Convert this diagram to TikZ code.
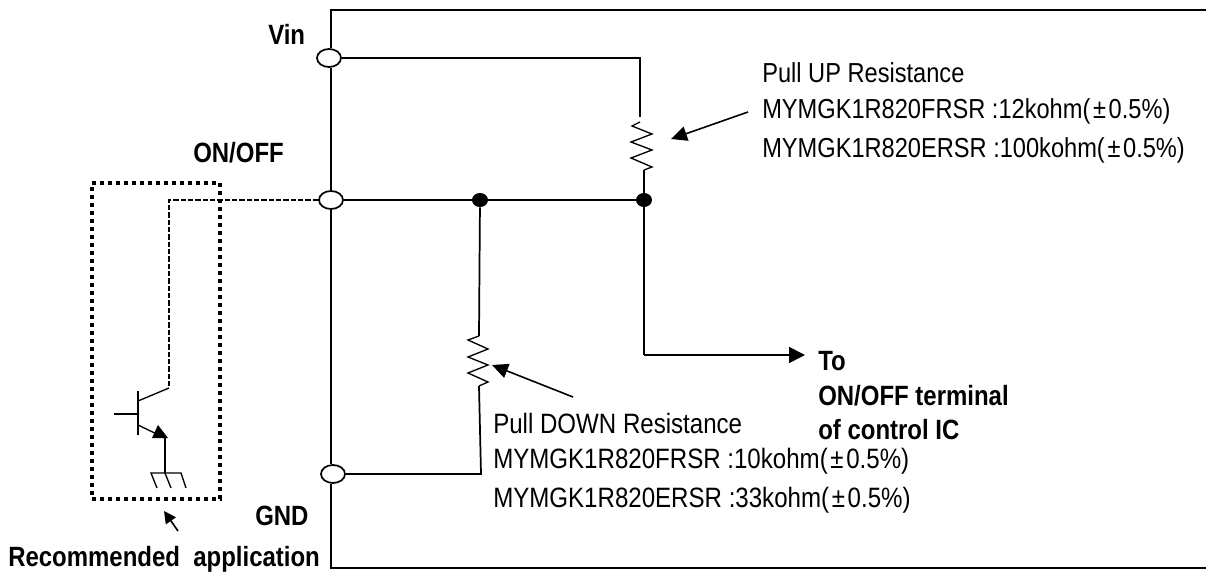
\documentclass[tikz,border=0pt]{standalone}
\usepackage{fontspec}
\setmainfont[FakeStretch=0.86]{Liberation Sans}
\usetikzlibrary{arrows.meta, shapes.geometric}
\newcommand{\pmwide}{\kern2pt±\kern2pt}
\tikzset{
  wire/.style={line width=1.3pt, line join=miter},
  pointer/.style={line width=1.2pt, -{Triangle[length=12pt,width=11pt]}},
  terminal/.style={draw, ellipse, line width=1.3pt, fill=white, inner sep=0pt, minimum width=18pt, minimum height=13.5pt},
  junction/.style={fill=black, ellipse, inner sep=0pt, minimum width=12pt, minimum height=10.5pt},
  lbl/.style={anchor=base west, inner sep=0pt, font=\fontsize{20.6}{20.6}\selectfont},
  lowlbl/.style={lbl, font=\fontsize{21}{21}\selectfont},
  boldlbl/.style={lbl, font=\fontsize{20.9}{20.9}\selectfont\bfseries},
}
\begin{document}
\begin{tikzpicture}[x=0.75pt, y=-0.75pt]
  \useasboundingbox (0,0) rectangle (1206,574);
  % outer frame corners
  \coordinate (tl) at (331,10);
  \coordinate (tr) at (1206,10);
  \coordinate (bl) at (331,568);
  \coordinate (br) at (1206,568);

  \node[terminal] (vin) at (329,58) {};
  \node[terminal] (onoff) at (331,200) {};
  \node[terminal] (gnd) at (333,474) {};
  \node[junction] (dotl) at (480,200) {};
  \node[junction] (dotr) at (644,200) {};
  \node[draw, dotted, line width=3pt, dash pattern=on 3pt off 3pt, minimum width=96pt, minimum height=237pt] (recbox) at (156,341) {};

  \draw[wire] (tr) -- (tl) -- (tl |- vin.north);
  \draw[wire] (tl |- vin.south) -- (tl |- onoff.north);
  \draw[wire] (tl |- onoff.south) -- (tl |- gnd.north);
  \draw[wire] (tl |- gnd.south) -- (bl) -- (br);

  % pull up
  \coordinate (upin) at (640,117);
  \coordinate (upstart) at (640,122);
  \coordinate (upout) at (644,170);
  \draw[wire] (vin.east) -- (upin |- vin) -- (upin);
  \draw[wire, line width=1pt] (upstart) -- ++(-8,4) -- ++(20,8) -- ++(-21,8) -- ++(21,8) -- ++(-21,8) -- ++(21,9) -- (upout);
  \draw[wire] (upout) -- (dotr);
  \draw[wire] (onoff.east) -- (dotl) -- (dotr);

  % pull down
  \coordinate (downin) at (479,336);
  \coordinate (downout) at (479,386);
  \coordinate (gndin) at (481,474);
  \draw[wire] (dotl) -- (downin);
  \draw[wire, line width=1pt] (downin) -- ++(-11,4) -- ++(20,9) -- ++(-20,8) -- ++(20,8) -- ++(-20,8) -- ++(20,9) -- (downout);
  \draw[wire] (downout) -- (gndin) -- (gnd.east);

  % output
  \coordinate (outcorner) at (644,355);
  \coordinate (outend) at (805,355);
  \draw[wire] (dotr) -- (outcorner);
  \draw[wire, -{Triangle[length=12pt,width=12pt]}] (outcorner) -- (outend);

  % pointers
  \coordinate (uptail) at (748,112);
  \coordinate (uptip) at (671,139);
  \coordinate (downtail) at (573,397);
  \coordinate (downtip) at (492,365);
  \coordinate (rectail) at (178,531);
  \coordinate (rectip) at (164,511);
  \draw[pointer] (uptail) -- (uptip);
  \draw[pointer] (downtail) -- (downtip);
  \draw[line width=1.2pt, -{Triangle[length=9pt,width=9pt]}] (rectail) -- (rectip);

  % transistor
  \coordinate (coll) at (169,388);
  \coordinate (emit) at (165,438);
  \coordinate (earth) at (165,473);
  \draw[line width=0.9pt, dash pattern=on 4pt off 1.5pt] (onoff.west) -- (coll |- onoff) -- (coll);
  \draw[wire, line width=1pt] (coll) -- (138,401);
  \draw[wire, line width=1pt] (138,391) -- (138,435);
  \draw[wire, line width=1pt] (114,414) -- (138,414);
  \draw[wire, line width=1pt] (138,425) -- (emit);
  \fill (158,425) -- (152,438) -- (168,438) -- cycle;
  \draw[wire] (emit) -- (earth);
  \draw[line width=1pt] (157,488) -- (151,473) -- (181,473) -- (186,488);
  \draw[line width=1pt] (earth) -- (171,488);

  \node[boldlbl] (vinlbl) at (268,45) {Vin};
  \node[boldlbl] (onofflbl) at (193,162) {ON/OFF};
  \node[boldlbl] (gndlbl) at (255,525) {GND};
  \node[boldlbl] (reclbl) at (8,566) {Recommended\ \ application};
  \node[boldlbl] (tolbl) at (818,370) {To};
  \node[boldlbl] (termlbl) at (818,405) {ON/OFF terminal};
  \node[boldlbl] (iclbl) at (818,439) {of control IC};

  \node[lbl] (uptitle) at (762,83) {Pull UP Resistance};
  \node[lbl] (upf) at (762,119) {MYMGK1R820FRSR :12kohm(\pmwide0.5\%)};
  \node[lbl] (upe) at (762,157) {MYMGK1R820ERSR :100kohm(\pmwide0.5\%)};
  \node[lowlbl] (downtitle) at (493,433) {Pull DOWN Resistance};
  \node[lowlbl] (downf) at (493,468) {MYMGK1R820FRSR :10kohm(\pmwide0.5\%)};
  \node[lowlbl] (downe) at (493,507) {MYMGK1R820ERSR :33kohm(\pmwide0.5\%)};
\end{tikzpicture}
\end{document}
